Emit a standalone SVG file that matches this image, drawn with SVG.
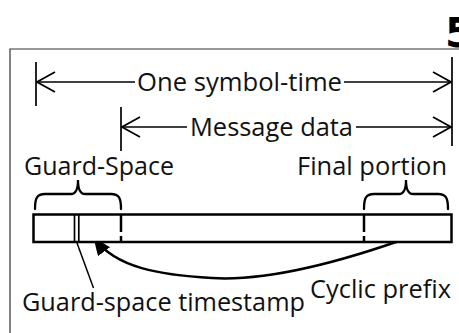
<svg xmlns="http://www.w3.org/2000/svg" width="459" height="333" viewBox="0 0 459 333">
<style>
  .t { font-family: "Open Sans", "Liberation Sans", sans-serif; font-size: 26px; fill: #111; }
  .ln { stroke: #000; stroke-width: 1.7; fill: none; }
  .bar { stroke: #000; stroke-width: 2.5; fill: #fff; }
  .brace { stroke: #000; stroke-width: 2.3; fill: none; stroke-linecap: round; }
  .dash { stroke: #000; stroke-width: 2.5; stroke-dasharray: 18 4; }
</style>
<defs>
  <marker id="open" viewBox="0 0 20 22" refX="19" refY="11" markerWidth="20" markerHeight="22" markerUnits="userSpaceOnUse" orient="auto">
    <path d="M1,1 L19,11 L1,21" fill="none" stroke="#000" stroke-width="1.7"/>
  </marker>
  <marker id="solid" viewBox="0 0 18 15" refX="17" refY="7.5" markerWidth="18" markerHeight="15" markerUnits="userSpaceOnUse" orient="auto">
    <path d="M0,0 L18,7.5 L0,15 Z" fill="#000"/>
  </marker>
</defs>
<rect width="459" height="333" fill="#fff"/>

<g id="frame">
  <path d="M10,333 V49 H459" fill="none" stroke="#333" stroke-width="1.2"/>
  <text x="445" y="47" font-family="DejaVu Sans, sans-serif" font-weight="bold" font-size="41" fill="#000">5</text>
</g>

<g id="connectors">
  <!-- One symbol-time -->
  <line class="ln" x1="36" y1="62" x2="36" y2="106"/>
  <line class="ln" x1="452" y1="57" x2="452" y2="146"/>
  <line class="ln" x1="135" y1="82" x2="37" y2="82" marker-end="url(#open)"/>
  <line class="ln" x1="344" y1="82" x2="451" y2="82" marker-end="url(#open)"/>
  <!-- Message data -->
  <line class="ln" x1="121" y1="107" x2="121" y2="151"/>
  <line class="ln" x1="187" y1="127" x2="122" y2="127" marker-end="url(#open)"/>
  <line class="ln" x1="356" y1="127" x2="451" y2="127" marker-end="url(#open)"/>
  <!-- cyclic prefix curve -->
  <path d="M413,236 C330,266 262,281 212,278 C160,275 116,268 94,238" fill="none" stroke="#000" stroke-width="2.5" marker-end="url(#solid)"/>
  <!-- timestamp pointer -->
  <line x1="77" y1="243" x2="93.5" y2="288" stroke="#000" stroke-width="1.5"/>
</g>

<g id="bar">
  <rect class="bar" x="33.5" y="214.5" width="418" height="27.5"/>
  <line x1="74.5" y1="214.5" x2="74.5" y2="242" stroke="#000" stroke-width="1.7"/>
  <line x1="78.8" y1="214.5" x2="78.8" y2="242" stroke="#000" stroke-width="1.7"/>
  <line class="dash" x1="121" y1="214" x2="121" y2="242"/>
  <line class="dash" x1="364" y1="214" x2="364" y2="242"/>
</g>

<g id="guard-brace">
  <path class="brace" d="M35,209 C35,198 37,194 45,194 H71 C76,194 78,190 78,180 C78,190 80,194 85,194 H111 C119,194 121,198 121,209"/>
</g>
<g id="final-brace">
  <path class="brace" d="M364,209 C364,198 366,194 374,194 H399 C404,194 406,190 406,180 C406,190 408,194 413,194 H438 C446,194 448,198 448,209"/>
</g>

<g id="labels">
  <text class="t" x="137" y="91" textLength="205" lengthAdjust="spacingAndGlyphs">One symbol-time</text>
  <text class="t" x="190" y="136" textLength="163" lengthAdjust="spacingAndGlyphs">Message data</text>
  <text class="t" x="24" y="175" textLength="150" lengthAdjust="spacingAndGlyphs">Guard-Space</text>
  <text class="t" x="297" y="175" textLength="150" lengthAdjust="spacingAndGlyphs">Final portion</text>
  <text class="t" x="22" y="311" textLength="283" lengthAdjust="spacingAndGlyphs">Guard-space timestamp</text>
  <text class="t" x="310" y="298" textLength="141" lengthAdjust="spacingAndGlyphs">Cyclic prefix</text>
</g>
</svg>
